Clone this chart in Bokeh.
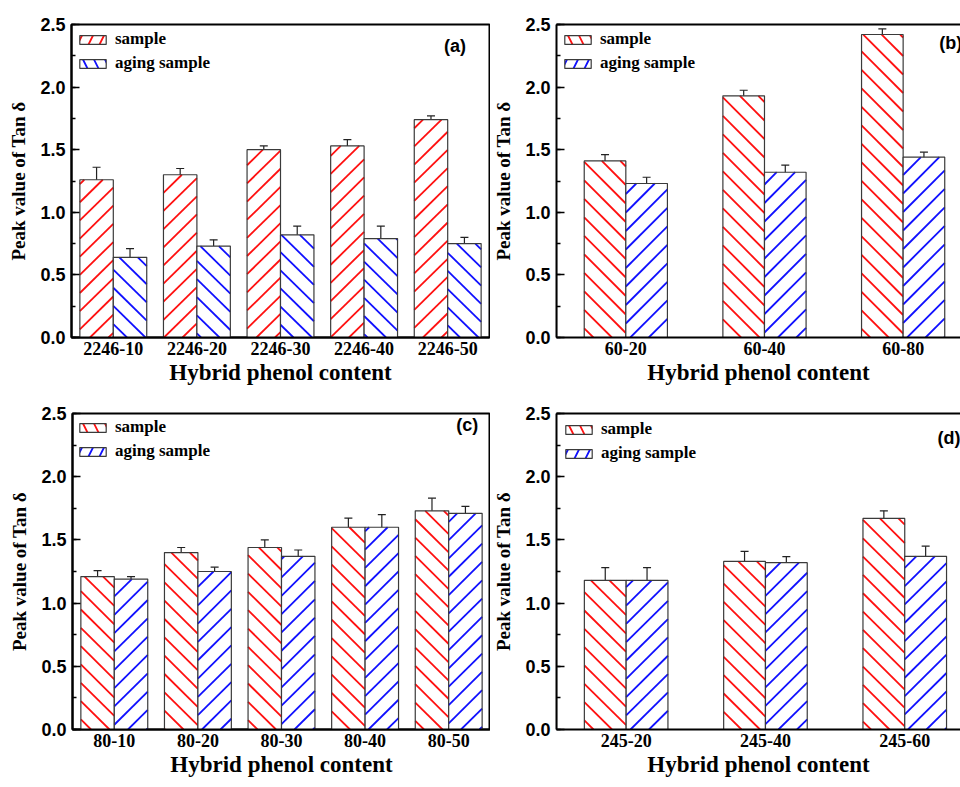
from bokeh.plotting import figure
from bokeh.layouts import column, row
from bokeh.models import (ColumnDataSource, Range1d, FixedTicker, SingleIntervalTicker,
                          PrintfTickFormatter, Whisker, TeeHead, Label, Legend, LegendItem,
                          LinearAxis)
from bokeh.embed import file_html
from bokeh.resources import INLINE
import math

# ---------------- data ----------------
a_cats = ["2246-10", "2246-20", "2246-30", "2246-40", "2246-50"]
a_sample = [1.26, 1.30, 1.50, 1.53, 1.74]
a_sample_err = [0.10, 0.05, 0.03, 0.05, 0.03]
a_aging = [0.64, 0.73, 0.82, 0.79, 0.75]
a_aging_err = [0.07, 0.05, 0.07, 0.10, 0.05]

b_cats = ["60-20", "60-40", "60-80"]
b_sample = [1.41, 1.93, 2.42]
b_sample_err = [0.05, 0.045, 0.045]
b_aging = [1.23, 1.32, 1.44]
b_aging_err = [0.05, 0.057, 0.04]

c_cats = ["80-10", "80-20", "80-30", "80-40", "80-50"]
c_sample = [1.21, 1.40, 1.44, 1.60, 1.73]
c_sample_err = [0.047, 0.04, 0.06, 0.073, 0.10]
c_aging = [1.19, 1.25, 1.37, 1.60, 1.71]
c_aging_err = [0.02, 0.034, 0.05, 0.10, 0.056]

d_cats = ["245-20", "245-40", "245-60"]
d_sample = [1.18, 1.33, 1.67]
d_sample_err = [0.10, 0.08, 0.06]
d_aging = [1.18, 1.32, 1.37]
d_aging_err = [0.10, 0.047, 0.08]

series_names = ["sample", "aging sample"]
y_ticks_interval = 0.5

SERIF = "Liberation Serif"
SANS = "Liberation Sans"
RED = "#ff1010"
BLUE = "#1010ff"
EDGE = "#3a3a3a"
HATCH_GAP = 18.5   # vertical pixel gap between hatch lines
HATCH_W = 1.8


def hatch_segments(lefts, rights, tops, kind, x0, sx, sy):
    """45-degree hatch lines clipped to each bar; returns data-space segment ends."""
    X0, Y0, X1, Y1 = [], [], [], []
    for xl, xr, t in zip(lefts, rights, tops):
        pl, pr, pt = (xl - x0) * sx, (xr - x0) * sx, t * sy
        if kind == "/":      # py = px + k
            kmin, kmax = -pr, pt - pl
        else:                # py = k - px
            kmin, kmax = pl, pt + pr
        k = math.ceil(kmin / HATCH_GAP) * HATCH_GAP
        while k <= kmax:
            if kind == "/":
                lo, hi = max(pl, -k), min(pr, pt - k)
                if hi - lo > 0.5:
                    X0.append(lo / sx + x0); Y0.append((lo + k) / sy)
                    X1.append(hi / sx + x0); Y1.append((hi + k) / sy)
            else:
                lo, hi = max(pl, k - pt), min(pr, k)
                if hi - lo > 0.5:
                    X0.append(lo / sx + x0); Y0.append((k - lo) / sy)
                    X1.append(hi / sx + x0); Y1.append((k - hi) / sy)
            k += HATCH_GAP
    return X0, Y0, X1, Y1


def panel(cats, sample, s_err, aging, a_err, tag, tag_xy, width, height, borders,
          x_end, bar_w, hatches, cropped, leg_margin):
    bl, br, bt, bb = borders
    p = figure(width=width, height=height, output_backend="svg", toolbar_location=None,
               x_range=Range1d(0.5, x_end), y_range=Range1d(0, 2.5),
               min_border_left=bl, min_border_right=br, min_border_top=bt, min_border_bottom=bb)
    p.grid.visible = False
    p.background_fill_color = "white"
    p.border_fill_color = "white"
    sx = (width - bl - br) / (x_end - 0.5)
    sy = (height - bt - bb) / 2.5
    n = len(cats)
    xs = list(range(1, n + 1))
    legend_rs = []
    for vals, errs, sign, kind, col in ((sample, s_err, -1, hatches[0], RED),
                                        (aging, a_err, 1, hatches[1], BLUE)):
        cx = [x + sign * bar_w / 2 for x in xs]
        src = ColumnDataSource(dict(x=cx, top=vals,
                                    upper=[v + e for v, e in zip(vals, errs)],
                                    lower=[v - e for v, e in zip(vals, errs)]))
        p.vbar(x="x", top="top", bottom=0, width=bar_w, source=src, fill_color="white",
               line_color=None)
        X0, Y0, X1, Y1 = hatch_segments([c - bar_w / 2 for c in cx], [c + bar_w / 2 for c in cx],
                                        vals, kind, 0.5, sx, sy)
        p.segment(x0=X0, y0=Y0, x1=X1, y1=Y1, line_color=col, line_width=HATCH_W)
        p.vbar(x="x", top="top", bottom=0, width=bar_w, source=src, fill_color=None,
               line_color=EDGE, line_width=1.2)
        w = Whisker(source=src, base="x", upper="upper", lower="lower", line_color="#222222",
                    line_width=1.2,
                    upper_head=TeeHead(size=8, line_color="#222222", line_width=1.2),
                    lower_head=TeeHead(size=8, line_color="#222222", line_width=1.2))
        p.add_layout(w)
        # legend swatch: a bar placed outside the visible x range, used only by the legend
        lr = p.vbar(x=[-50], top=[1], width=bar_w, fill_color="white", line_color=EDGE,
                    line_width=1.2, hatch_pattern=kind, hatch_color=col, hatch_scale=22,
                    hatch_weight=1.8)
        legend_rs.append(lr)

    leg = Legend(items=[LegendItem(label=series_names[0], renderers=[legend_rs[0]]),
                        LegendItem(label=series_names[1], renderers=[legend_rs[1]])],
                 location="top_left", margin=leg_margin, padding=0, spacing=4,
                 glyph_width=33, glyph_height=11, label_height=11, label_standoff=6,
                 label_text_font=SERIF, label_text_font_style="bold",
                 label_text_font_size="17px", label_text_baseline="middle",
                 label_text_color="black",
                 border_line_color=None, background_fill_alpha=0)
    p.add_layout(leg)

    # axes
    xa = p.xaxis[0]
    xa.ticker = FixedTicker(ticks=xs)
    xa.major_label_overrides = {x: c for x, c in zip(xs, cats)}
    xa.major_tick_in = 0
    xa.major_tick_out = 0
    xa.minor_tick_line_color = None
    xa.major_label_text_font = SERIF
    xa.major_label_text_font_style = "bold"
    xa.major_label_text_font_size = "18px"
    xa.major_label_text_color = "black"
    xa.major_label_standoff = 4
    xa.axis_label = "Hybrid phenol content"
    xa.axis_label_text_font = SERIF
    xa.axis_label_text_font_style = "bold"
    xa.axis_label_text_font_size = "23px"
    xa.axis_label_text_color = "black"
    xa.axis_label_standoff = 2
    xa.axis_line_width = 2
    xa.axis_line_color = "black"

    ya = p.yaxis[0]
    ya.ticker = SingleIntervalTicker(interval=y_ticks_interval, num_minor_ticks=2)
    ya.formatter = PrintfTickFormatter(format="%.1f")
    ya.major_tick_in = 8
    ya.major_tick_out = 0
    ya.minor_tick_in = 4
    ya.minor_tick_out = 0
    ya.major_tick_line_width = 1.5
    ya.minor_tick_line_width = 1.5
    ya.major_label_text_font = SANS
    ya.major_label_text_font_style = "bold"
    ya.major_label_text_font_size = "18px"
    ya.major_label_text_color = "black"
    ya.major_label_standoff = 6
    ya.axis_label = "Peak value of Tan \u03b4"
    ya.axis_label_text_font = SERIF
    ya.axis_label_text_font_style = "bold"
    ya.axis_label_text_font_size = "19px"
    ya.axis_label_text_color = "black"
    ya.axis_label_standoff = 8
    ya.axis_line_width = 2
    ya.axis_line_color = "black"

    if cropped:
        p.outline_line_color = None
        top = LinearAxis(ticker=FixedTicker(ticks=[]), axis_line_width=2, axis_line_color="black",
                         major_tick_in=0, major_tick_out=0, minor_tick_in=0, minor_tick_out=0,
                         major_label_text_font_size="0px")
        p.add_layout(top, "above")
    else:
        p.outline_line_color = "black"
        p.outline_line_width = 2
        p.outline_line_alpha = 1

    p.add_layout(Label(x=tag_xy[0], y=tag_xy[1], text=tag, text_font=SANS,
                       text_font_style="bold", text_font_size="18px",
                       text_baseline="middle", text_align="left", text_color="black"))
    return p


pa = panel(a_cats, a_sample, a_sample_err, a_aging, a_aging_err, "(a)", (4.955, 2.33),
           490, 395, (71, 1, 21, 55), 5.5, 0.4, ("/", "\\"), False, 5)
pb = panel(b_cats, b_sample, b_sample_err, b_aging, b_aging_err, "(b)", (3.26, 2.35),
           470, 395, (65, 0, 24, 58), 0.5 + 405 / 139.0, 0.3, ("\\", "/"), True, 5)
pc = panel(c_cats, c_sample, c_sample_err, c_aging, c_aging_err, "(c)", (5.09, 2.41),
           490, 392, (72, 0, 15, 58), 5.5, 0.4, ("\\", "/"), False, 4)
pd_ = panel(d_cats, d_sample, d_sample_err, d_aging, d_aging_err, "(d)", (3.235, 2.31),
            470, 392, (66, 0, 18, 55), 0.5 + 404 / 139.3, 0.3, ("\\", "/"), True, 6)

layout = column(row(pa, pb), row(pc, pd_))
open("out.html", "w").write(file_html(layout, INLINE))
